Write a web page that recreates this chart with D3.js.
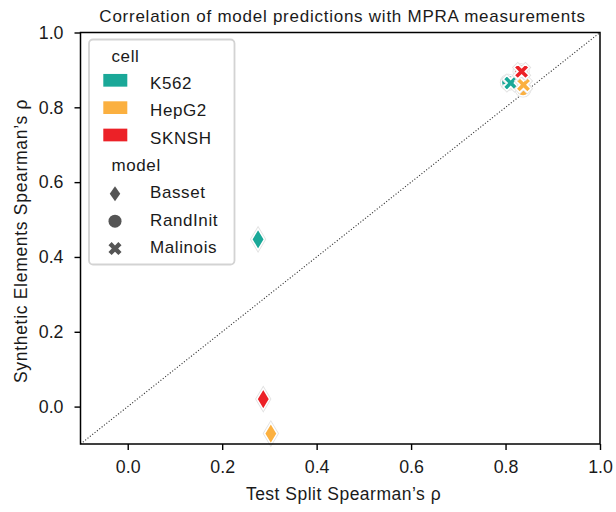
<!DOCTYPE html>
<html>
<head>
<meta charset="utf-8">
<script src="https://cdn.jsdelivr.net/npm/d3@7"></script>
<style>
  html, body { margin: 0; padding: 0; background: #fff; }
  svg { display: block; font-family: "Liberation Sans", Arial, sans-serif; }
</style>
</head>
<body>
<svg id="chart" width="616" height="512"></svg>
<script>
// Spearman correlations: test split (x) vs synthetic elements (y)
const cells = ["K562", "HepG2", "SKNSH"];
const cellColors = ["#1aa898", "#fbb040", "#ec2127"];
const models = ["Basset", "RandInit", "Malinois"];

const pointCell  = ["K562", "HepG2", "SKNSH", "K562", "HepG2", "SKNSH", "K562", "HepG2", "SKNSH"];
const pointModel = ["Basset", "Basset", "Basset", "RandInit", "RandInit", "RandInit", "Malinois", "Malinois", "Malinois"];
const testRho      = [0.276, 0.303, 0.287, 0.806, 0.837, 0.833, 0.811, 0.838, 0.834];
const syntheticRho = [0.447, -0.072, 0.020, 0.867, 0.849, 0.895, 0.865, 0.860, 0.896];

const xTicks = [0.0, 0.2, 0.4, 0.6, 0.8, 1.0];
const yTicks = [0.0, 0.2, 0.4, 0.6, 0.8, 1.0];
const domain = [-0.1, 1.0];

const svg = d3.select("#chart");
const plotL = 80.5, plotR = 600, plotT = 32.5, plotB = 444;
const ink = "#1a1a1a";

const x = d3.scaleLinear().domain(domain).range([plotL, plotR]);
const y = d3.scaleLinear().domain(domain).range([plotB, plotT]);
const color = d3.scaleOrdinal().domain(cells).range(cellColors);

// marker shapes
const diamondPath = (r, w) => `M0,${-r}L${r * w},0L0,${r}L${-r * w},0Z`;
const xPath = (r) => {
  const a = r * 0.32; // half arm thickness
  const plus = [[a, a], [r, a], [r, -a], [a, -a], [a, -r], [-a, -r], [-a, -a], [-r, -a], [-r, a], [-a, a], [-a, r], [a, r]];
  const c = Math.SQRT1_2;
  // filled plus rotated by 45 degrees
  const pts = plus.map(([px, py]) => [(px - py) * c, (px + py) * c]);
  return "M" + pts.map(p => p.join(",")).join("L") + "Z";
};
const circlePath = (r) => d3.arc()({ innerRadius: 0, outerRadius: r, startAngle: 0, endAngle: 2 * Math.PI });

const plotShape = (m) => m === "Basset" ? diamondPath(10.5, 0.6) : m === "RandInit" ? circlePath(7) : xPath(8);
const legendShape = (m) => m === "Basset" ? diamondPath(7.5, 0.7) : m === "RandInit" ? circlePath(6.5) : xPath(7);

// y = x reference line
svg.append("line")
  .attr("x1", x(domain[0])).attr("y1", y(domain[0]))
  .attr("x2", x(domain[1])).attr("y2", y(domain[1]))
  .attr("stroke", "#333").attr("stroke-width", 1.1)
  .attr("stroke-dasharray", "1.1,1.9");

// points: white edge with a faint grey rim
const pts = testRho.map((v, i) => ({ x: v, y: syntheticRho[i], cell: pointCell[i], model: pointModel[i] }));
const marks = svg.append("g").selectAll("g").data(pts).join("g")
  .attr("transform", d => `translate(${x(d.x)},${y(d.y)})`);
marks.append("path")
  .attr("d", d => plotShape(d.model))
  .attr("fill", "none").attr("stroke", "#e2e2e2").attr("stroke-width", 3.2);
marks.append("path")
  .attr("d", d => plotShape(d.model))
  .attr("fill", d => color(d.cell))
  .attr("stroke", "#fff").attr("stroke-width", 1.5);

// axes
const xAxis = d3.axisBottom(x).tickValues(xTicks).tickFormat(d3.format(".1f")).tickSize(6).tickPadding(10);
const yAxis = d3.axisLeft(y).tickValues(yTicks).tickFormat(d3.format(".1f")).tickSize(6).tickPadding(11);

const gx = svg.append("g").attr("transform", `translate(0,${plotB})`).call(xAxis);
const gy = svg.append("g").attr("transform", `translate(${plotL},0)`).call(yAxis);
[gx, gy].forEach(g => {
  g.select(".domain").remove();
  g.selectAll(".tick line").attr("stroke", "#000").attr("stroke-width", 1.4);
  g.selectAll(".tick text").attr("fill", ink).style("font-size", "17.8px")
    .style("font-family", "'Liberation Sans', Arial, sans-serif");
});

// frame
svg.append("rect")
  .attr("x", plotL).attr("y", plotT)
  .attr("width", plotR - plotL).attr("height", plotB - plotT)
  .attr("fill", "none").attr("stroke", "#000").attr("stroke-width", 1.5);

// titles
svg.append("text").attr("x", 342.5).attr("y", 21.7)
  .attr("text-anchor", "middle").attr("fill", ink)
  .style("font-size", "17px").style("letter-spacing", "0.75px")
  .text("Correlation of model predictions with MPRA measurements");
svg.append("text").attr("x", 343.5).attr("y", 500)
  .attr("text-anchor", "middle").attr("fill", ink)
  .style("font-size", "17.5px").style("letter-spacing", "0.5px")
  .text("Test Split Spearman’s ρ");
svg.append("text").attr("transform", `translate(27,241) rotate(-90)`)
  .attr("text-anchor", "middle").attr("fill", ink)
  .style("font-size", "17.5px").style("letter-spacing", "0.7px")
  .text("Synthetic Elements Spearman’s ρ");

// legend
const lg = svg.append("g");
lg.append("rect").attr("x", 89).attr("y", 39.5).attr("width", 145.5).attr("height", 225)
  .attr("rx", 4).attr("fill", "#fff").attr("fill-opacity", 0.85)
  .attr("stroke", "#d3d3d3").attr("stroke-width", 1.8);
const rowBase = (i) => 61.6 + i * 27.35;
const rows = [
  { type: "title", label: "cell" },
  ...cells.map(c => ({ type: "cell", label: c })),
  { type: "title", label: "model" },
  ...models.map(m => ({ type: "model", label: m }))
];
rows.forEach((r, i) => {
  const b = rowBase(i);
  if (r.type === "title") {
    lg.append("text").attr("x", 111.5).attr("y", b)
      .attr("fill", ink).style("font-size", "17px").style("letter-spacing", "0.6px").text(r.label);
    return;
  }
  if (r.type === "cell") {
    lg.append("rect").attr("x", 103.3).attr("y", b - 15).attr("width", 24).attr("height", 12.7)
      .attr("fill", color(r.label));
  } else {
    lg.append("path").attr("transform", `translate(115,${b - 4.5})`)
      .attr("d", legendShape(r.label)).attr("fill", "#555");
  }
  lg.append("text").attr("x", 150).attr("y", b)
    .attr("fill", ink).style("font-size", "17px").style("letter-spacing", "0.6px").text(r.label);
});
</script>
</body>
</html>
